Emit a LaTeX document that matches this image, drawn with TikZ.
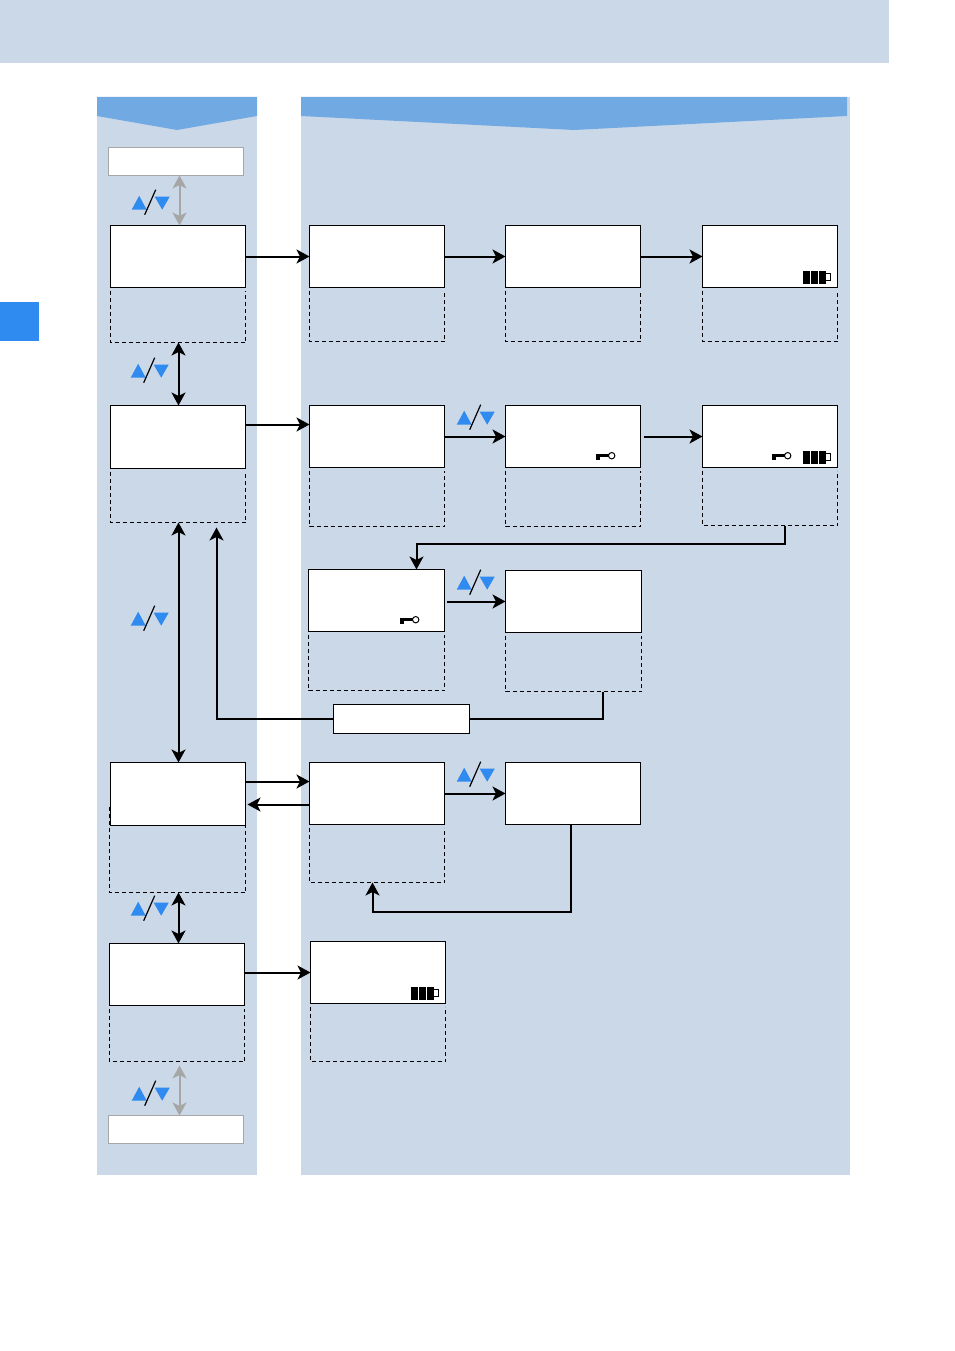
\documentclass[tikz,border=0pt]{standalone}
\usetikzlibrary{arrows.meta}
\definecolor{panel}{HTML}{CBD8E8}
\definecolor{header}{HTML}{71A9E2}
\definecolor{accent}{HTML}{2F8BEF}
\definecolor{muted}{HTML}{A6A6A6}
\tikzset{
  screen/.style={draw=black,fill=white,line width=1pt,inner sep=0pt,outer sep=0pt},
  softkeys/.style={inner sep=0pt,outer sep=0pt},
  softedge/.style={draw=black,dash pattern=on 4pt off 3pt,line width=1pt},
  endbox/.style={draw=muted,fill=white,line width=1pt,inner sep=0pt,outer sep=0pt},
  flow/.style={draw=black,line width=2pt,-{Stealth[length=13pt,width=14pt,inset=3.5pt]}},
  both/.style={draw=black,line width=2pt,{Stealth[length=13pt,width=14pt,inset=3.5pt]}-{Stealth[length=13pt,width=14pt,inset=3.5pt]}},
  softboth/.style={draw=muted,line width=2pt,{Stealth[length=13pt,width=14pt,inset=3.5pt]}-{Stealth[length=13pt,width=14pt,inset=3.5pt]}},
}
% box from corner to corner, given as x0,y0,x1,y1
\newcommand{\boxat}[6]{%
  \pgfmathsetmacro{\bw}{#4-#2}\pgfmathsetmacro{\bh}{#5-#3}%
  \pgfmathsetmacro{\bx}{(#4+#2)/2}\pgfmathsetmacro{\by}{(#5+#3)/2}%
  \node[#6,minimum width=\bw pt,minimum height=\bh pt] (#1) at (\bx,\by) {};}
% dashed softkey area: open at the top, it hangs from just below a display
\newcommand{\softarea}[5]{%
  \boxat{#1}{#2}{#3}{#4}{#5}{softkeys}%
  \draw[softedge] (#1.north west) -- (#1.south west) -- (#1.south east) -- (#1.north east);}
% display box with its dashed softkey area below
\newcommand{\scr}[6]{%
  \boxat{#1}{#2}{#3}{#4}{#5}{screen}%
  \pgfmathsetmacro{\dtop}{#5+3}%
  \softarea{#1d}{#2}{\dtop}{#4}{#6}}
% up/down selection mark
\newcommand{\updown}[2]{%
  \begin{scope}[shift={(#1,#2)}]
    \fill[accent] (0,14) -- (7.5,0) -- (15,14) -- cycle;
    \fill[accent] (23,1) -- (38,1) -- (30.5,14) -- cycle;
    \draw[black,line width=1.2pt] (13,19) -- (24,-6);
  \end{scope}}
% battery indicator
\newcommand{\battery}[2]{%
  \begin{scope}[shift={(#1,#2)}]
    \fill[black] (0,0) rectangle (23,13);
    \draw[white,line width=0.6pt] (8,0) -- (8,13) (15.5,0) -- (15.5,13);
    \draw[black,fill=white,line width=0.8pt] (23,3) rectangle (27.5,10);
  \end{scope}}
% key lock indicator, placed by the left end of its shaft
\newcommand{\keylock}[2]{%
  \begin{scope}[shift={(#1,#2)}]
    \fill[black] (0,-1.6) rectangle (13,1.6);
    \fill[black] (0,-1.6) rectangle (4,4.5);
    \draw[black,fill=white,line width=1pt] (16,0) circle (3.2);
  \end{scope}}
\begin{document}
\begin{tikzpicture}[x=1pt,y=-1pt]
\useasboundingbox (0,0) rectangle (954,1351);
% page background and margin tab
\fill[panel] (0,0) rectangle (889,63);
\fill[accent] (0,302) rectangle (39,341);
% column panels and headers
\fill[panel] (97,97) rectangle (257,1175);
\fill[panel] (301,97) rectangle (850,1175);
\fill[header] (97,97) -- (257,97) -- (257,116) -- (177,130) -- (97,116) -- cycle;
\fill[header] (301,97) -- (847,97) -- (847,116) -- (574,130) -- (301,116) -- cycle;

\begin{scope}[shift={(0.5,0.5)}]
% end markers of the list
\boxat{first}{108}{147}{243}{175}{endbox}
\boxat{last}{108}{1115}{243}{1143}{endbox}

% display boxes
\scr{aa}{110}{225}{245}{287}{342}
\scr{ab}{309}{225}{444}{287}{341}
\scr{ac}{505}{225}{640}{287}{341}
\scr{ad}{702}{225}{837}{287}{341}
\scr{ba}{110}{405}{245}{468}{522}
\scr{bb}{309}{405}{444}{467}{526}
\scr{bc}{505}{405}{640}{467}{526}
\scr{bd}{702}{405}{837}{467}{525}
\scr{ca}{308}{569}{444}{631}{690}
\scr{cb}{505}{570}{641}{632}{691}
\boxat{note}{333}{704}{469}{733}{screen}
\softarea{dad}{109}{806}{245}{892}
\boxat{da}{110}{762}{245}{825}{screen}
\scr{db}{309}{762}{444}{824}{882}
\boxat{dc}{505}{762}{640}{824}{screen}
\scr{ea}{109}{943}{244}{1005}{1061}
\scr{eb}{310}{941}{445}{1003}{1061}

\begin{scope}[shift={(-0.8,-0.8)}]
% indicators
\battery{803}{271}
\battery{803}{451}
\battery{411}{987}
\keylock{596}{456}
\keylock{772}{456}
\keylock{400}{620}

% selection marks
\updown{132}{196}
\updown{131}{364}
\updown{457}{411}
\updown{131}{612}
\updown{457}{576}
\updown{457}{768}
\updown{131}{902}
\updown{132}{1087}
\end{scope}

% connectors, left column
\draw[softboth] (first.south -| 179,0) -- (aa.north -| 179,0);
\draw[both] (aad.south -| 178,0) -- (ba.north -| 178,0);
\draw[both] (bad.south -| 178,0) -- (da.north -| 178,0);
\draw[both] (dad.south -| 178,0) -- (ea.north -| 178,0);
\coordinate (lastfrom) at (179,1065);
\draw[softboth] (lastfrom) -- (last.north -| 179,0);

% connectors, across the rows
\draw[flow] (aa.east) -- (ab.west);
\draw[flow] (ab.east) -- (ac.west);
\draw[flow] (ac.east) -- (ad.west);
\draw[flow] (ba.east |- 0,424) -- (bb.west |- 0,424);
\draw[flow] (bb.east |- 0,436) -- (bc.west |- 0,436);
\coordinate (bcout) at (643,436);
\draw[flow] (bcout) -- (bd.west |- 0,436);
\coordinate (caout) at (446,601);
\draw[flow] (caout) -- (cb.west |- 0,601);
\draw[flow] (da.east |- 0,781) -- (db.west |- 0,781);
\draw[flow] (db.west |- 0,804) -- (247,804);
\draw[flow] (db.east |- 0,793) -- (dc.west |- 0,793);
\draw[flow] (ea.east |- 0,972) -- (eb.west |- 0,972);

% connectors that turn back
\draw[flow] (bdd.south -| 784,0) -- (784,543) -- (416,543) -- (ca.north -| 416,0);
\draw[draw=black,line width=2pt] (cbd.south -| 602,0) -- (602,718) -- (note.east |- 0,718);
\draw[flow] (note.west |- 0,718) -- (216,718) -- (216,527);
\draw[flow] (dc.south -| 570,0) -- (570,911) -- (372,911) -- (dbd.south -| 372,0);
\end{scope}
\end{tikzpicture}
\end{document}
